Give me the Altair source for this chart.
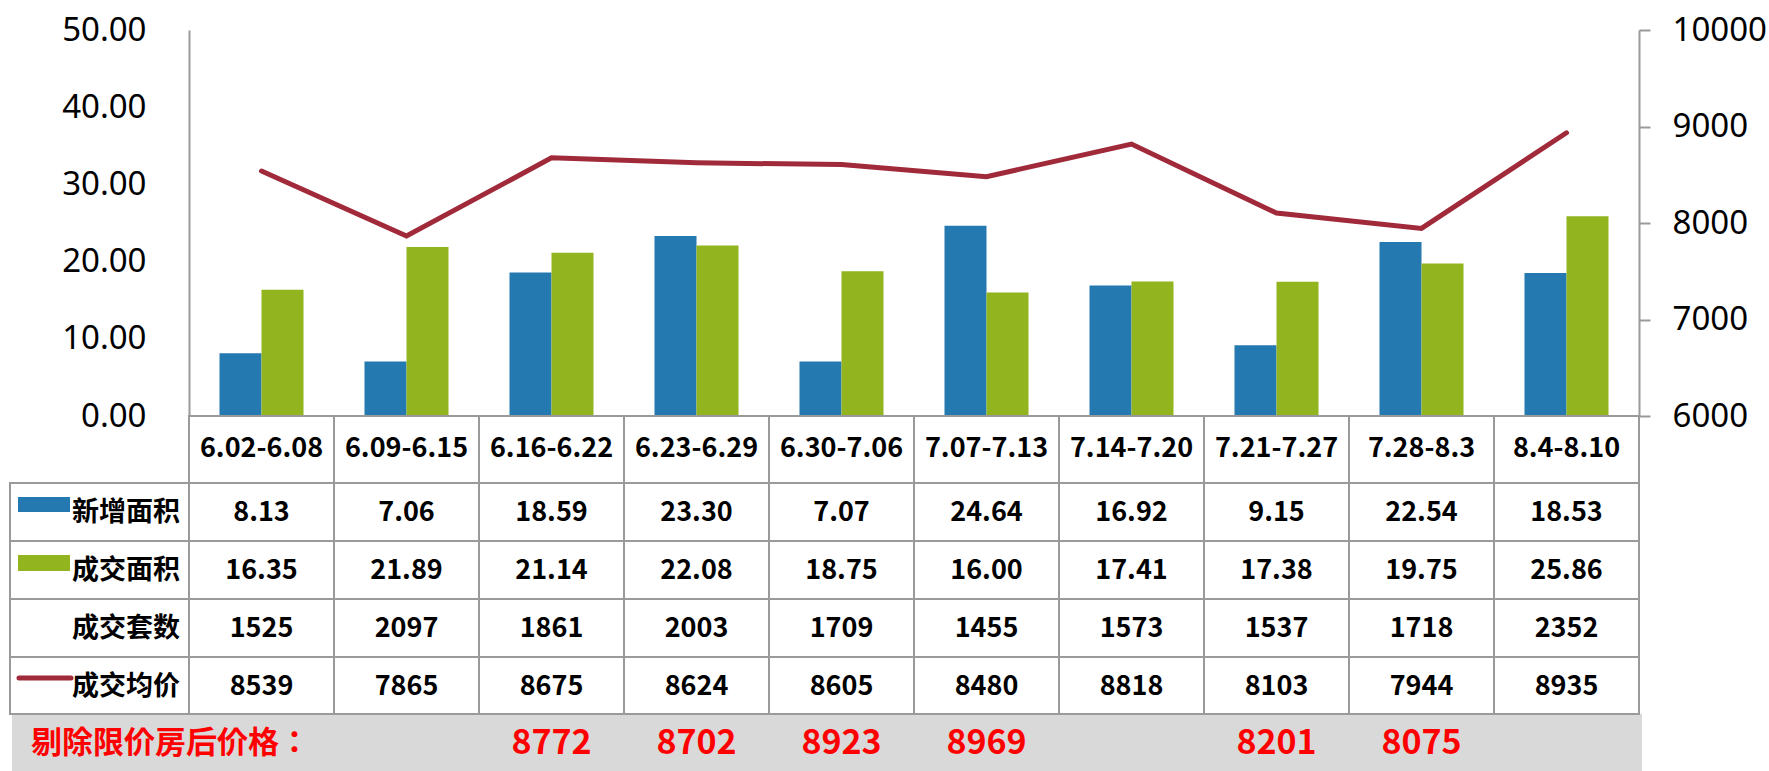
import altair as alt
import pandas as pd

categories = ["6.02-6.08", "6.09-6.15", "6.16-6.22", "6.23-6.29", "6.30-7.06",
              "7.07-7.13", "7.14-7.20", "7.21-7.27", "7.28-8.3", "8.4-8.10"]
new_area = [8.13, 7.06, 18.59, 23.30, 7.07, 24.64, 16.92, 9.15, 22.54, 18.53]
deal_area = [16.35, 21.89, 21.14, 22.08, 18.75, 16.00, 17.41, 17.38, 19.75, 25.86]
deal_units = [1525, 2097, 1861, 2003, 1709, 1455, 1573, 1537, 1718, 2352]
avg_price = [8539, 7865, 8675, 8624, 8605, 8480, 8818, 8103, 7944, 8935]
excl_price = [None, None, 8772, 8702, 8923, 8969, None, 8201, 8075, None]
series_names = ["新增面积", "成交面积"]
row_names = ["新增面积", "成交面积", "成交套数", "成交均价"]
excl_label = "剔除限价房后价格："
left_ticks = [0, 10, 20, 30, 40, 50]
right_ticks = [6000, 7000, 8000, 9000, 10000]

BLUE = "#2479b0"
GREEN = "#92b41e"
RED_LINE = "#a0293a"
GRID = "#9a9a9a"
CJK = "Noto Sans CJK SC"
W, H = 1450, 386

xenc = alt.X("cat:N", scale=alt.Scale(domain=categories, paddingInner=0, paddingOuter=0), axis=None)

bar_df = pd.DataFrame(
    [{"cat": c, "series": series_names[0], "value": v} for c, v in zip(categories, new_area)]
    + [{"cat": c, "series": series_names[1], "value": v} for c, v in zip(categories, deal_area)]
)
line_df = pd.DataFrame({"cat": categories, "price": avg_price})
cat_df = pd.DataFrame({"cat": categories})

bars = alt.Chart(bar_df).mark_bar().encode(
    x=xenc,
    xOffset=alt.XOffset("series:N", scale=alt.Scale(domain=series_names, paddingInner=0, paddingOuter=0.726)),
    y=alt.Y("value:Q", scale=alt.Scale(domain=[0, 50]),
            axis=alt.Axis(orient="left", values=left_ticks, format=".2f", ticks=False, grid=False,
                          domainColor=GRID, domainWidth=2, labelFontSize=33, labelFont="Noto Sans",
                          labelColor="black", labelPadding=43, title=None)),
    color=alt.Color("series:N", scale=alt.Scale(domain=series_names, range=[BLUE, GREEN]), legend=None),
)

line = alt.Chart(line_df).mark_line(color=RED_LINE, strokeWidth=5, strokeCap="round").encode(
    x=xenc,
    y=alt.Y("price:Q", scale=alt.Scale(domain=[6000, 10000]),
            axis=alt.Axis(orient="right", values=right_ticks, format="d", tickSize=11, tickColor=GRID,
                          tickWidth=2, grid=False, domainColor=GRID, domainWidth=2, labelFontSize=33,
                          labelFont="Noto Sans", labelColor="black", labelPadding=22, title=None)),
)

one = pd.DataFrame({"k": [0]})

# grey bottom band
grey = alt.Chart(one).mark_rect(color="#d9d9d9").encode(
    x=alt.value(-177), x2=alt.value(1453), y=alt.value(684), y2=alt.value(741))

# table rows: (top, bottom) relative to the plot top
row_bounds = [(453, 511), (511, 569), (569, 627), (627, 684)]

layers = [grey]

# header cells
layers.append(alt.Chart(cat_df).mark_rect(fill="white", stroke=GRID, strokeWidth=2).encode(
    x=xenc, y=alt.value(386), y2=alt.value(453)))
layers.append(alt.Chart(cat_df).mark_text(font=CJK, fontSize=27, fontWeight="bold", color="black",
                                          baseline="middle").encode(
    x=xenc, y=alt.value(419), text="cat:N"))

row_values = [new_area, deal_area, deal_units, avg_price]
row_formats = [".2f", ".2f", "d", "d"]
for name, vals, fmt, (t, b) in zip(row_names, row_values, row_formats, row_bounds):
    df = pd.DataFrame({"cat": categories, "v": vals})
    layers.append(alt.Chart(df).mark_rect(fill="white", stroke=GRID, strokeWidth=2).encode(
        x=xenc, y=alt.value(t), y2=alt.value(b)))
    layers.append(alt.Chart(df).mark_text(font=CJK, fontSize=27, fontWeight="bold", color="black",
                                          baseline="middle").encode(
        x=xenc, y=alt.value((t + b) / 2 + 1), text=alt.Text("v:Q", format=fmt)))
    ndf = pd.DataFrame({"name": [name]})
    layers.append(alt.Chart(ndf).mark_rect(fill="white", stroke=GRID, strokeWidth=2).encode(
        x=alt.value(-179), x2=alt.value(0), y=alt.value(t), y2=alt.value(b)))
    layers.append(alt.Chart(ndf).mark_text(font=CJK, fontSize=27, fontWeight="bold", color="black",
                                           align="right", baseline="middle").encode(
        x=alt.value(-9), y=alt.value((t + b) / 2 + 1), text="name:N"))

# legend swatches in the label column
layers.append(alt.Chart(pd.DataFrame({"series": [series_names[0]]})).mark_rect(color=BLUE).encode(
    x=alt.value(-171), x2=alt.value(-119), y=alt.value(467), y2=alt.value(482)))
layers.append(alt.Chart(pd.DataFrame({"series": [series_names[1]]})).mark_rect(color=GREEN).encode(
    x=alt.value(-171), x2=alt.value(-119), y=alt.value(525), y2=alt.value(541)))
layers.append(alt.Chart(pd.DataFrame({"series": [row_names[3]]})).mark_rule(
    color=RED_LINE, strokeWidth=5, strokeCap="round").encode(
    x=alt.value(-170), x2=alt.value(-118), y=alt.value(648)))

# excluded-price row
excl_df = pd.DataFrame({"cat": categories, "p": excl_price}).dropna()
layers.append(alt.Chart(pd.DataFrame({"t": [excl_label]})).mark_text(
    font="Noto Sans CJK JP", fontSize=31, fontWeight="bold", color="#ff0000", align="left",
    baseline="middle").encode(
    x=alt.value(-158), y=alt.value(714), text="t:N"))
layers.append(alt.Chart(excl_df).mark_text(
    font=CJK, fontSize=34, fontWeight="bold", color="#ff0000", baseline="middle").encode(
    x=xenc, y=alt.value(714), text=alt.Text("p:Q", format="d")))

chart = alt.layer(bars, line, *layers).resolve_scale(y="independent", color="independent").properties(
    width=W, height=H,
    autosize=alt.AutoSizeParams(type="none"),
    padding={"left": 189, "top": 30, "right": 130, "bottom": 355},
    background="white",
).configure_view(strokeWidth=0)

chart.save("out.html", embed_options={"renderer": "svg", "actions": False})
